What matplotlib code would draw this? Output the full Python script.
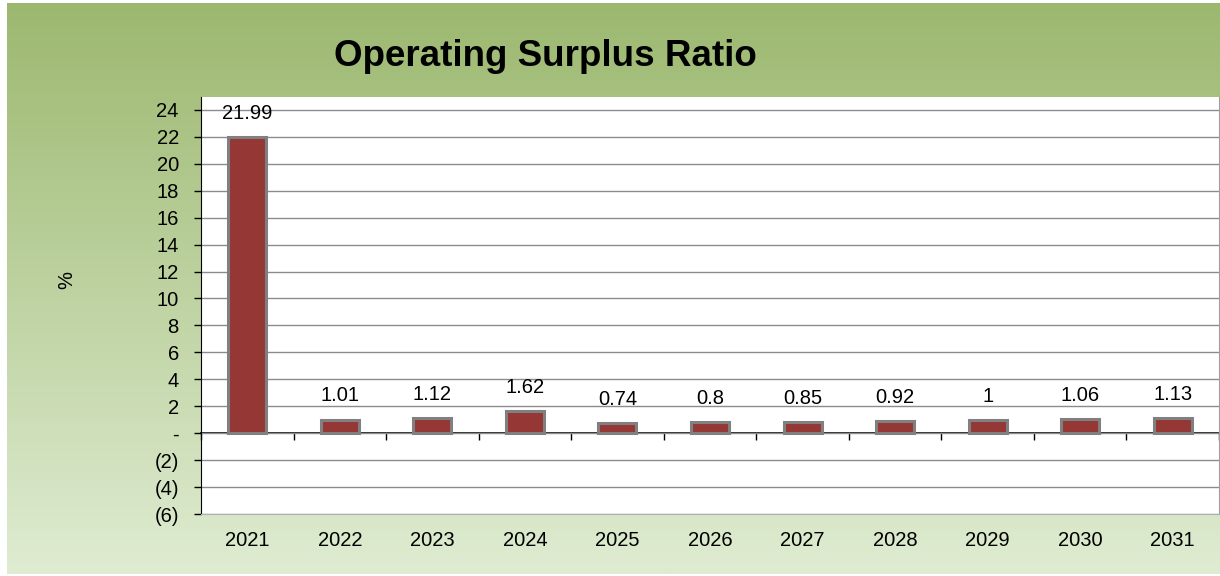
import numpy as np
import matplotlib
matplotlib.use("Agg")
import matplotlib.pyplot as plt
from matplotlib.colors import LinearSegmentedColormap
from matplotlib.ticker import FuncFormatter

# data
years = ["2021", "2022", "2023", "2024", "2025", "2026", "2027", "2028", "2029", "2030", "2031"]
ratio = [21.99, 1.01, 1.12, 1.62, 0.74, 0.8, 0.85, 0.92, 1, 1.06, 1.13]
labels = ["21.99", "1.01", "1.12", "1.62", "0.74", "0.8", "0.85", "0.92", "1", "1.06", "1.13"]
y_ticks = [-6, -4, -2, 0, 2, 4, 6, 8, 10, 12, 14, 16, 18, 20, 22, 24]

plt.rcParams["font.family"] = ["Liberation Sans", "DejaVu Sans"]

fig = plt.figure(figsize=(12.2, 5.76), dpi=100)
fig.patch.set_facecolor("white")

# green gradient background
bg = fig.add_axes([7 / 1220, 2 / 576, 1 - 7 / 1220, 1 - 5 / 576], zorder=0)
cmap = LinearSegmentedColormap.from_list("bg", ["#9cb86f", "#dfecd2"])
grad = np.linspace(0, 1, 256).reshape(-1, 1)
bg.imshow(grad, aspect="auto", cmap=cmap, extent=[0, 1, 1, 0])
bg.axis("off")

ax = fig.add_axes([201 / 1220, 62 / 576, 1018 / 1220, 417 / 576], zorder=1)
ax.set_facecolor("white")

x = np.arange(len(years))
bars = ax.bar(x, ratio, width=0.41, color="#953735", edgecolor="#808080",
              linewidth=2.2, zorder=3)
for b, lab in zip(bars, labels):
    ax.annotate(lab, (b.get_x() + b.get_width() / 2, b.get_height()),
                xytext=(0, 17), textcoords="offset points",
                ha="center", va="center", fontsize=14.5)

ax.set_xlim(-0.5, len(years) - 0.5)
ax.set_ylim(-6, 24.96)
ax.set_yticks(y_ticks)


def fmt(v, pos):
    if v == 0:
        return "-"
    if v < 0:
        return f"({abs(v):.0f})"
    return f"{v:.0f}"


ax.yaxis.set_major_formatter(FuncFormatter(fmt))
ax.grid(axis="y", color="#8c8c8c", linewidth=1, zorder=0)
ax.set_axisbelow(True)

ax.set_xticks(x)
ax.set_xticklabels(years)
ax.tick_params(axis="x", length=0, pad=12, labelsize=14.5)
ax.tick_params(axis="y", length=5, width=1, labelsize=14.5, pad=11)

ax.spines["top"].set_visible(False)
ax.spines["bottom"].set_color("#b0b0b0")
ax.spines["right"].set_color("#a0a0a0")
ax.spines["left"].set_color("black")

# zero axis line with category boundary ticks
zero_ax = ax.secondary_xaxis(0, transform=ax.transData)
zero_ax.set_xticks(np.arange(len(years) + 1) - 0.5)
zero_ax.set_xticklabels([])
zero_ax.tick_params(length=5, width=1, color="black", direction="out")
zero_ax.spines["bottom"].set_color("black")
zero_ax.spines["bottom"].set_linewidth(1.2)

fig.text(545 / 1220, 1 - 57 / 576, "Operating Surplus Ratio", ha="center", va="center",
         fontsize=26.5, fontweight="bold")
fig.text(67 / 1220, 1 - 280 / 576, "%", ha="center", va="center", rotation=90, fontsize=14.5)

fig.savefig("out.png", dpi=100)
